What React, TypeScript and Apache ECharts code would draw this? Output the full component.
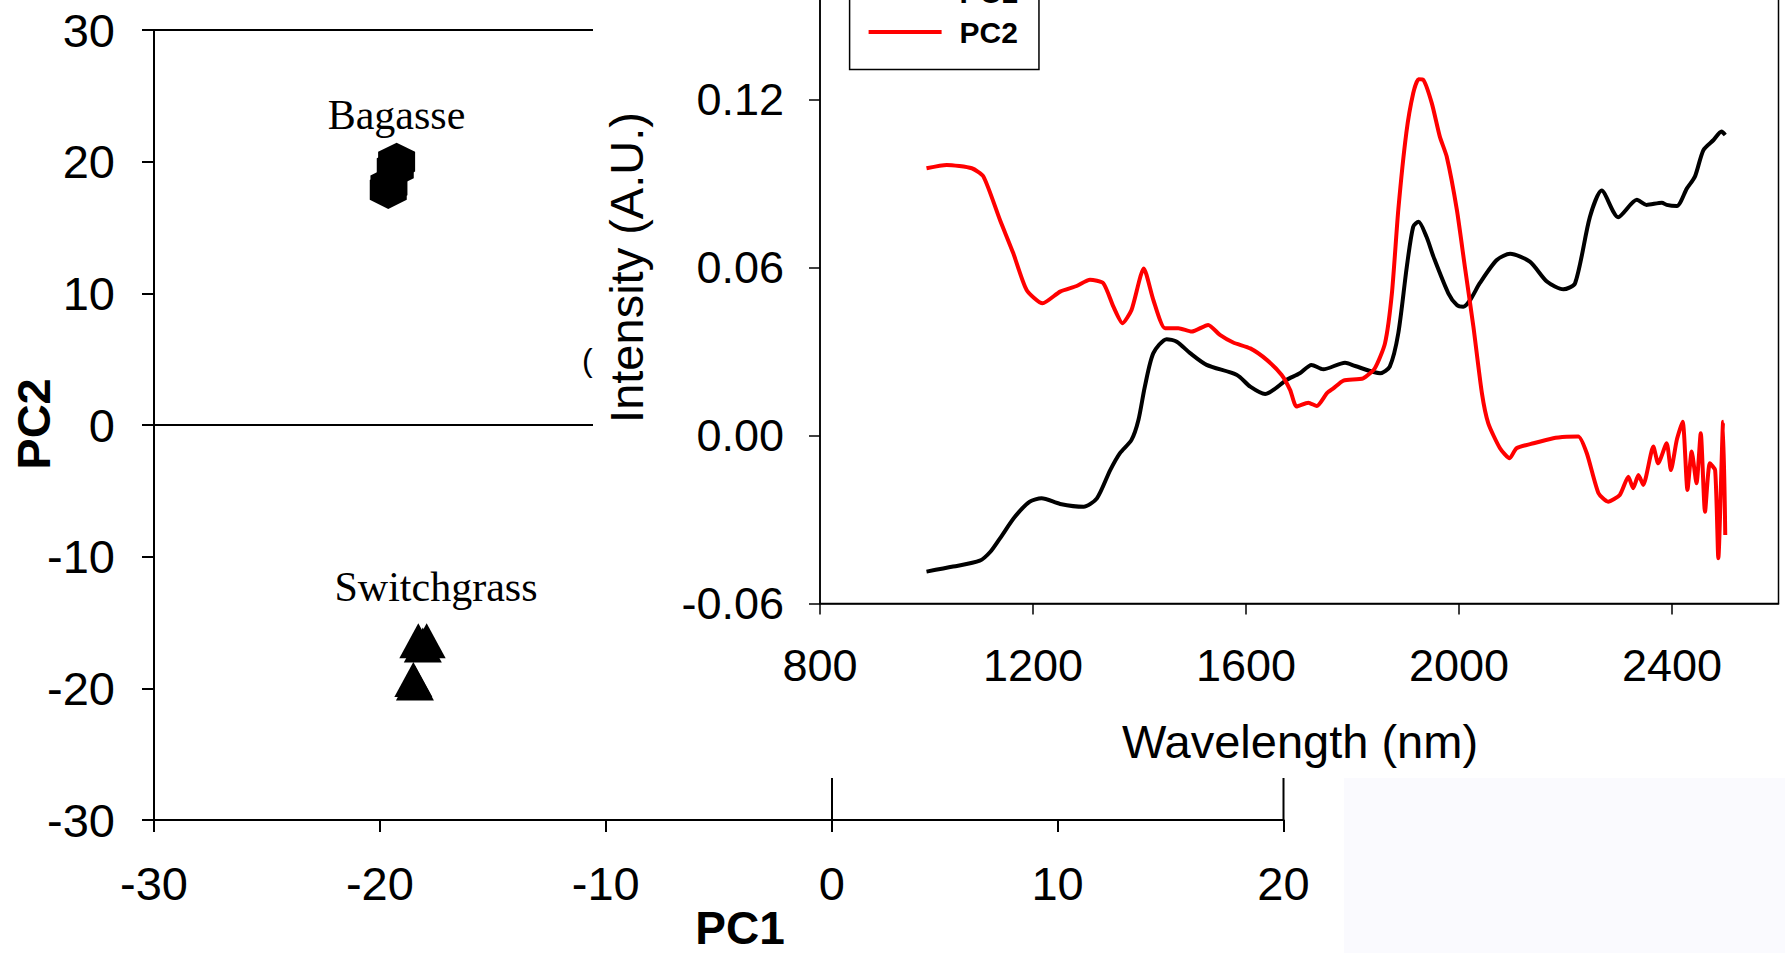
import React, { useEffect, useRef } from "react";
import * as echarts from "echarts";

// ---------- data ----------
// PCA scores
const bagasseX = [-19.26, -19.32, -19.6, -19.63];
const bagasseY = [20.0, 19.5, 18.2, 17.85];
const switchgrassX = [-18.3, -17.93, -18.1, -18.52, -18.45];
const switchgrassY = [-16.39, -16.39, -16.7, -19.33, -19.6];

// scatter axes ticks
const scoreXTicks = [-30, -20, -10, 0, 10, 20];
const scoreYTicks = [-30, -20, -10, 0, 10, 20, 30];

// loadings (inset)
const pc1Wavelength = [1000, 1050, 1100, 1120, 1138, 1166, 1194, 1216, 1251, 1295, 1320, 1345, 1363, 1385, 1398, 1410, 1426, 1451, 1470, 1495, 1526, 1583, 1608, 1636, 1676, 1701, 1723, 1745, 1786, 1805, 1852, 1870, 1886, 1902, 1914, 1924, 1939, 1952, 1980, 1996, 2008, 2021, 2039, 2071, 2096, 2133, 2165, 2196, 2218, 2246, 2268, 2299, 2334, 2352, 2381, 2390, 2409, 2428, 2443, 2459, 2478, 2493, 2500];
const pc1Values = [-0.0486, -0.0468, -0.0447, -0.0415, -0.0367, -0.029, -0.0236, -0.0224, -0.0244, -0.0254, -0.0224, -0.0123, -0.0063, -0.0015, 0.0056, 0.0175, 0.0295, 0.0345, 0.0336, 0.0295, 0.0253, 0.0217, 0.0175, 0.0149, 0.0199, 0.0223, 0.0253, 0.0237, 0.0261, 0.0249, 0.0223, 0.0247, 0.0366, 0.0604, 0.0747, 0.0765, 0.0711, 0.064, 0.0509, 0.0467, 0.0461, 0.0485, 0.0545, 0.0628, 0.065, 0.0622, 0.0551, 0.0523, 0.0545, 0.0783, 0.0876, 0.0781, 0.0843, 0.0825, 0.0833, 0.0825, 0.0821, 0.0884, 0.0926, 0.1021, 0.1057, 0.1087, 0.1075];

const pc2Wavelength = [1000, 1038, 1085, 1107, 1138, 1163, 1188, 1218, 1251, 1282, 1307, 1332, 1351, 1368, 1385, 1408, 1426, 1448, 1473, 1498, 1529, 1551, 1576, 1608, 1639, 1667, 1683, 1695, 1717, 1733, 1752, 1764, 1783, 1820, 1842, 1861, 1874, 1886, 1901, 1914, 1924, 1933, 1949, 1964, 1977, 1996, 2011, 2027, 2043, 2055, 2077, 2095, 2108, 2140, 2177, 2202, 2224, 2240, 2262, 2280, 2302, 2318, 2327, 2337, 2346, 2365, 2374, 2390, 2398, 2409, 2420, 2429, 2437, 2446, 2454, 2462, 2471, 2481, 2487, 2496, 2500];
const pc2Values = [0.0956, 0.0968, 0.0956, 0.0926, 0.0771, 0.0652, 0.0521, 0.0473, 0.0515, 0.0535, 0.0557, 0.0545, 0.0461, 0.0402, 0.0449, 0.0598, 0.0485, 0.0384, 0.0384, 0.0372, 0.0396, 0.036, 0.0333, 0.0312, 0.0271, 0.0217, 0.0163, 0.0104, 0.0118, 0.0106, 0.0152, 0.0169, 0.0197, 0.0205, 0.0241, 0.033, 0.0509, 0.0807, 0.1081, 0.1224, 0.1274, 0.1272, 0.1188, 0.1069, 0.0997, 0.0807, 0.0604, 0.039, 0.0152, 0.0044, -0.0045, -0.0081, -0.0045, -0.0027, -0.0009, -0.0004, -0.0003, -0.0063, -0.0206, -0.0236, -0.0212, -0.0147, -0.0188, -0.0141, -0.0176, -0.0039, -0.0099, -0.0027, -0.0123, -0.0015, 0.005, -0.0194, -0.0057, -0.017, 0.0009, -0.0272, -0.0099, -0.0123, -0.0438, 0.005, -0.0355];

// inset axes ticks
const waveTicks = [800, 1200, 1600, 2000, 2400, 2800];
const waveMax = 2600;
const intensityTicks = [-0.06, 0.0, 0.06, 0.12, 0.18];

// ---------- styling ----------
const SANS = "'Liberation Sans', Arial, Helvetica, sans-serif";
const SERIF = "'Liberation Serif', 'Times New Roman', serif";
const OFF = 100; // chart is shifted up by this many px (the figure is cropped at its top)
const HEX = "path://M50 0 L94 24 L94 76 L50 100 L6 76 L6 24 Z";

function txt(text: string, x: number, y: number, size: number, opts: any = {}) {
  return {
    type: "text",
    x,
    y,
    rotation: opts.rotation || 0,
    z: opts.z ?? 20,
    silent: true,
    style: {
      text,
      fill: "#000",
      fontSize: size,
      fontWeight: opts.bold ? "bold" : "normal",
      fontFamily: opts.family || SANS,
      align: opts.align || "center",
      textAlign: opts.align || "center",
      verticalAlign: "middle",
      textVerticalAlign: "middle",
    },
  };
}

export default function App() {
  const ref = useRef<HTMLDivElement>(null);

  useEffect(() => {
    if (!ref.current) return;
    const chart = echarts.init(ref.current, null, { renderer: "svg" });

    const yStep = intensityTicks[1] - intensityTicks[0];
    const xStep = waveTicks[1] - waveTicks[0];

    const option: any = {
      animation: false,
      backgroundColor: "#ffffff",
      textStyle: { fontFamily: SANS },
      grid: [
        { left: 154, right: 501.5, top: 130, bottom: 133, show: true, borderColor: "#000", borderWidth: 2, z: 0 },
        { left: 820, right: 6.5, top: 32.15, bottom: 349.5, show: true, borderColor: "#000", borderWidth: 1.5, z: 10 },
      ],
      xAxis: [
        {
          gridIndex: 0,
          type: "value",
          min: scoreXTicks[0],
          max: scoreXTicks[scoreXTicks.length - 1],
          interval: scoreXTicks[1] - scoreXTicks[0],
          axisLine: { show: true, onZero: false, lineStyle: { color: "#000", width: 2 } },
          axisTick: { show: true, inside: false, length: 12, lineStyle: { color: "#000", width: 2 } },
          axisLabel: { fontSize: 47, color: "#000", fontFamily: SANS, margin: 39.5, formatter: (v: number) => String(v) },
          splitLine: { show: false },
        },
        {
          gridIndex: 1,
          type: "value",
          z: 10,
          min: waveTicks[0],
          max: waveMax,
          interval: xStep,
          axisLine: { show: true, onZero: false, lineStyle: { color: "#000", width: 1.5 } },
          axisTick: { show: true, inside: false, length: 11, lineStyle: { color: "#000", width: 1.5 } },
          axisLabel: {
            fontSize: 45,
            color: "#000",
            fontFamily: SANS,
            margin: 39,
            showMaxLabel: false,
            formatter: (v: number) => String(Math.round(v)),
          },
          splitLine: { show: false },
        },
      ],
      yAxis: [
        {
          gridIndex: 0,
          type: "value",
          min: scoreYTicks[0],
          max: scoreYTicks[scoreYTicks.length - 1],
          interval: scoreYTicks[1] - scoreYTicks[0],
          axisLine: { show: true, onZero: false, lineStyle: { color: "#000", width: 2 } },
          axisTick: { show: true, inside: false, length: 12, lineStyle: { color: "#000", width: 2 } },
          axisLabel: { fontSize: 47, color: "#000", fontFamily: SANS, margin: 39, formatter: (v: number) => String(v) },
          splitLine: { show: false },
        },
        {
          gridIndex: 1,
          type: "value",
          z: 10,
          min: intensityTicks[0],
          max: intensityTicks[intensityTicks.length - 1],
          interval: yStep,
          axisLine: { show: true, onZero: false, lineStyle: { color: "#000", width: 1.5 } },
          axisTick: { show: true, inside: false, length: 11, lineStyle: { color: "#000", width: 1.5 } },
          axisLabel: {
            fontSize: 45,
            color: "#000",
            fontFamily: SANS,
            margin: 36,
            showMaxLabel: false,
            formatter: (v: number) => (Math.abs(v) < 1e-9 ? "0.00" : v.toFixed(2)),
          },
          splitLine: { show: false },
        },
      ],
      legend: {
        data: ["PC1", "PC2"],
        orient: "vertical",
        left: 849.6,
        top: 55,
        itemWidth: 73,
        itemHeight: 4,
        itemGap: 10,
        icon: "rect",
        padding: [22, 21, 22.5, 19],
        borderColor: "#000",
        borderWidth: 1.5,
        backgroundColor: "#fff",
        selectedMode: false,
        z: 12,
        textStyle: { fontSize: 30, fontWeight: "bold", fontFamily: SANS, color: "#000", padding: [0, 0, 0, 13] },
      },
      series: [
        {
          name: "Bagasse",
          type: "scatter",
          xAxisIndex: 0,
          yAxisIndex: 0,
          z: 2,
          symbol: HEX,
          symbolSize: [37, 38],
          itemStyle: { color: "#000", opacity: 1 },
          data: bagasseX.map((x, i) => [x, bagasseY[i]]),
          markLine: {
            silent: true,
            symbol: ["none", "none"],
            label: { show: false },
            z: 5,
            lineStyle: { color: "#000", width: 2, type: "solid" },
            data: [{ yAxis: 0 }, { xAxis: 0 }],
          },
        },
        {
          name: "Switchgrass",
          type: "scatter",
          xAxisIndex: 0,
          yAxisIndex: 0,
          z: 2,
          symbol: "triangle",
          symbolSize: [38, 35],
          itemStyle: { color: "#000", opacity: 1 },
          data: switchgrassX.map((x, i) => [x, switchgrassY[i]]),
        },
        {
          name: "PC1",
          type: "line",
          xAxisIndex: 1,
          yAxisIndex: 1,
          z: 11,
          showSymbol: false,
          symbol: "none",
          smooth: 0.25,
          lineStyle: { color: "#000", width: 4 },
          itemStyle: { color: "#000" },
          data: pc1Wavelength.map((w, i) => [w, pc1Values[i]]),
        },
        {
          name: "PC2",
          type: "line",
          xAxisIndex: 1,
          yAxisIndex: 1,
          z: 11,
          showSymbol: false,
          symbol: "none",
          smooth: 0.2,
          lineStyle: { color: "#ff0000", width: 4 },
          itemStyle: { color: "#ff0000" },
          data: pc2Wavelength.map((w, i) => [w, pc2Values[i]]),
        },
      ],
      graphic: [
        // stray glyph of the underlying figure, partly hidden by the inset
        txt("(", 582, 360 + OFF, 32, { align: "left", z: 3 }),
        // inset background
        { type: "rect", silent: true, z: 8, shape: { x: 593, y: 0, width: 1192, height: 778 + OFF }, style: { fill: "#ffffff" } },
        { type: "rect", silent: true, z: 8, shape: { x: 1344, y: 778 + OFF, width: 441, height: 175 }, style: { fill: "#fafafe" } },
        // axis titles
        txt("PC2", 33, 424 + OFF, 47, { bold: true, rotation: Math.PI / 2 }),
        txt("PC1", 740, 928 + OFF, 46, { bold: true }),
        txt("Intensity (A.U.)", 626, 267.5 + OFF, 47, { rotation: Math.PI / 2 }),
        txt("Wavelength (nm)", 1300, 741 + OFF, 47),
        // group labels
        txt("Bagasse", 396.5, 114.8 + OFF, 42, { family: SERIF }),
        txt("Switchgrass", 436, 587.2 + OFF, 42, { family: SERIF }),
      ],
    };

    chart.setOption(option);
    return () => chart.dispose();
  }, []);

  return (
    <div
      ref={ref}
      style={{ position: "absolute", left: 0, top: -OFF, width: 1785, height: 953 + OFF, background: "#fff" }}
    />
  );
}
